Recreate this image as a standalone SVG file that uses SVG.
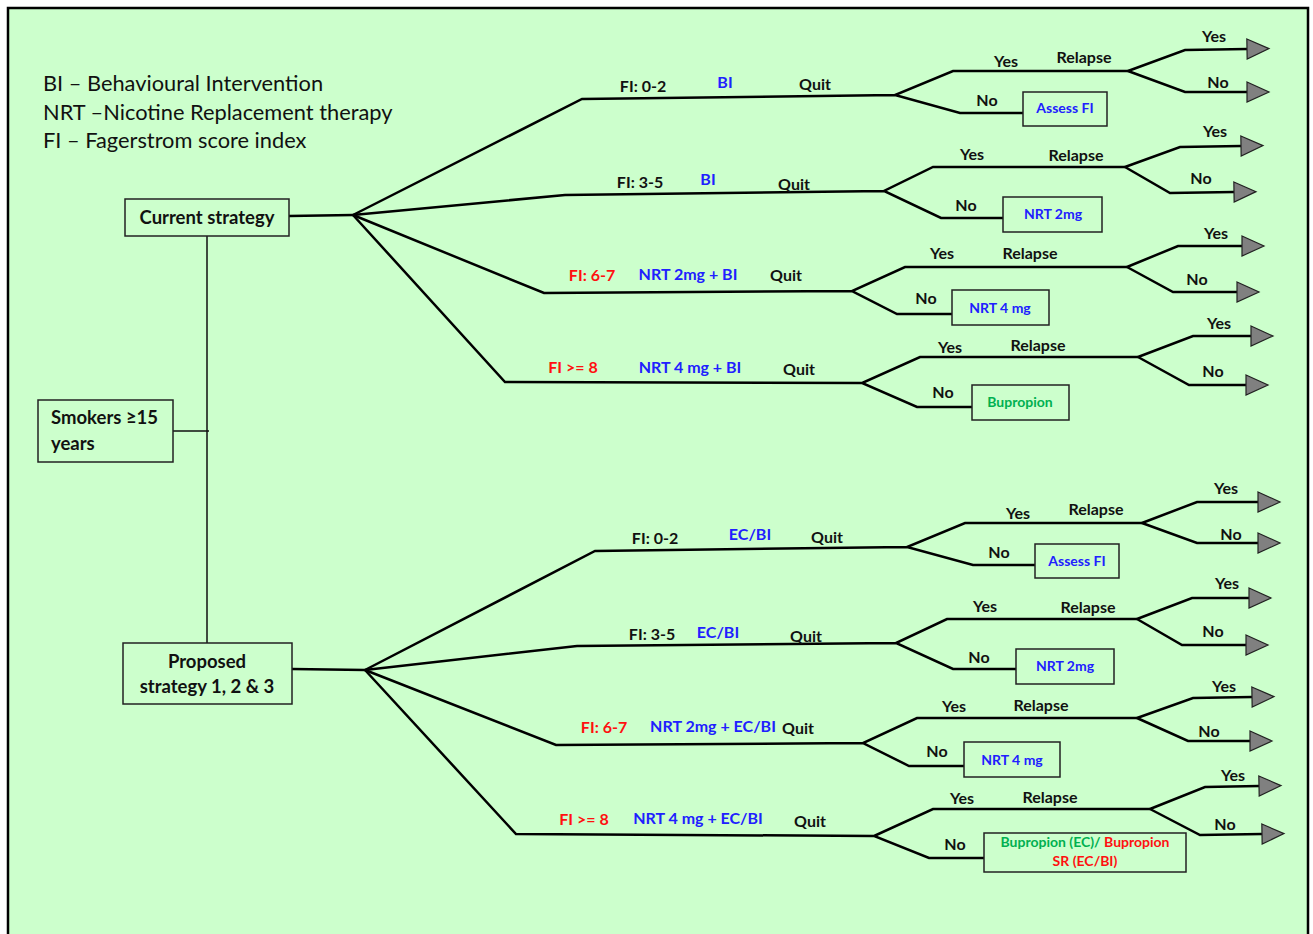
<svg xmlns="http://www.w3.org/2000/svg" width="1313" height="934" viewBox="0 0 1313 934">
<defs>
<style>
.t{font-family:Lato,"Open Sans","Liberation Sans",sans-serif;font-weight:bold;font-size:16px;text-anchor:middle;fill:#111}
.b{fill:#2020ff}.r{fill:#ff1010}.g{fill:#00b050}
.bx{fill:none;stroke:#222;stroke-width:1.5}
.bt{font-family:Lato,"Open Sans","Liberation Sans",sans-serif;font-weight:bold;font-size:14px;text-anchor:middle}
.nt{font-family:Lato,"Open Sans","Liberation Sans",sans-serif;font-weight:bold;font-size:18.5px;fill:#111}
.ln{fill:none;stroke:#000;stroke-width:2.5;stroke-linejoin:miter}
.thin{fill:none;stroke:#111;stroke-width:1.5}
.leg{font-family:Lato,"Open Sans","Liberation Sans",sans-serif;font-size:21.8px;fill:#111}
</style>
<marker id="arr" markerUnits="userSpaceOnUse" markerWidth="26" markerHeight="24" refX="1" refY="11" orient="auto" overflow="visible">
<path d="M1,1 L23,11 L1,21 Z" fill="#808080" stroke="#222" stroke-width="1.2"/>
</marker>
</defs>
<rect x="8" y="8" width="1300" height="940" fill="#ccffcc" stroke="#000" stroke-width="2.5"/>

<g id="legend">
<text class="leg" x="43" y="91">BI – Behavioural Intervention</text>
<text class="leg" x="43" y="120">NRT –Nicotine Replacement therapy</text>
<text class="leg" x="43" y="148">FI – Fagerstrom score index</text>
</g>

<g id="connectors">
<path class="thin" d="M207,236 V643 M173,431 H209"/>
<path class="ln" d="M289,216 L353,215 M292,669 L365,670"/>
<!-- G1 -->
<path class="ln" d="M353,215 L582,99 L895,95 M1023,113 L960,113 L895,95 L953,71 L1128,71"/>
<path class="ln" marker-end="url(#arr)" d="M1128,71 L1185,50 L1247,49"/>
<path class="ln" marker-end="url(#arr)" d="M1128,71 L1185,92 L1247,92"/>
<!-- G2 -->
<path class="ln" d="M353,215 L565,195 L884,191 M1003,218 L941,218 L884,191 L933,167 L1125,167"/>
<path class="ln" marker-end="url(#arr)" d="M1125,167 L1180,147 L1241,146"/>
<path class="ln" marker-end="url(#arr)" d="M1125,167 L1170,193 L1234,192"/>
<!-- G3 -->
<path class="ln" d="M353,215 L544,293 L852,291 M952,314 L897,314 L852,291 L905,267 L1127,267"/>
<path class="ln" marker-end="url(#arr)" d="M1127,267 L1178,246 L1242,246"/>
<path class="ln" marker-end="url(#arr)" d="M1127,267 L1173,292 L1237,292"/>
<!-- G4 -->
<path class="ln" d="M353,215 L505,382 L862,383 M972,407 L917,407 L862,383 L920,357 L1138,357"/>
<path class="ln" marker-end="url(#arr)" d="M1138,357 L1193,336 L1251,336"/>
<path class="ln" marker-end="url(#arr)" d="M1138,357 L1189,385 L1246,385"/>
<!-- G5 -->
<path class="ln" d="M365,670 L595,551 L907,547 M1035,565 L973,565 L907,547 L965,523 L1142,523"/>
<path class="ln" marker-end="url(#arr)" d="M1142,523 L1197,502 L1258,502"/>
<path class="ln" marker-end="url(#arr)" d="M1142,523 L1197,543 L1258,543"/>
<!-- G6 -->
<path class="ln" d="M365,670 L577,646 L896,643 M1016,669 L953,669 L896,643 L947,619 L1137,619"/>
<path class="ln" marker-end="url(#arr)" d="M1137,619 L1192,598 L1249,598"/>
<path class="ln" marker-end="url(#arr)" d="M1137,619 L1182,645 L1246,645"/>
<!-- G7 -->
<path class="ln" d="M365,670 L556,745 L863,743 M964,766 L909,766 L863,743 L917,718 L1137,718"/>
<path class="ln" marker-end="url(#arr)" d="M1137,718 L1193,698 L1252,697"/>
<path class="ln" marker-end="url(#arr)" d="M1137,718 L1188,741 L1250,741"/>
<!-- G8 -->
<path class="ln" d="M365,670 L516,834 L874,836 M984,858 L929,858 L874,836 L933,809 L1150,809"/>
<path class="ln" marker-end="url(#arr)" d="M1150,809 L1205,787 L1259,786"/>
<path class="ln" marker-end="url(#arr)" d="M1150,809 L1200,835 L1262,834"/>
</g>

<g id="current-strategy">
<rect class="bx" x="125" y="199" width="164" height="37"/>
<text class="nt" x="207" y="224" text-anchor="middle">Current strategy</text>
</g>
<g id="smokers">
<rect class="bx" x="38" y="400" width="135" height="62"/>
<text class="nt" x="51" y="424">Smokers ≥15</text>
<text class="nt" x="51" y="450">years</text>
</g>
<g id="proposed-strategy">
<rect class="bx" x="123" y="643" width="169" height="61"/>
<text class="nt" x="207" y="668" text-anchor="middle">Proposed</text>
<text class="nt" x="207" y="693" text-anchor="middle">strategy 1, 2 &amp; 3</text>
</g>

<g id="current-branch-labels">
<text class="t" x="643" y="92">FI: 0-2</text><text class="t b" x="725" y="88">BI</text><text class="t" x="815" y="90">Quit</text>
<text class="t" x="1006" y="67">Yes</text><text class="t" x="1084" y="63">Relapse</text><text class="t" x="987" y="106">No</text>
<text class="t" x="1214" y="42">Yes</text><text class="t" x="1218" y="88">No</text>

<text class="t" x="640" y="188">FI: 3-5</text><text class="t b" x="708" y="185">BI</text><text class="t" x="794" y="190">Quit</text>
<text class="t" x="972" y="160">Yes</text><text class="t" x="1076" y="161">Relapse</text><text class="t" x="966" y="211">No</text>
<text class="t" x="1215" y="137">Yes</text><text class="t" x="1201" y="184">No</text>

<text class="t r" x="592" y="281">FI: 6-7</text><text class="t b" x="688" y="280">NRT 2mg + BI</text><text class="t" x="786" y="281">Quit</text>
<text class="t" x="942" y="259">Yes</text><text class="t" x="1030" y="259">Relapse</text><text class="t" x="926" y="304">No</text>
<text class="t" x="1216" y="239">Yes</text><text class="t" x="1197" y="285">No</text>

<text class="t r" x="573" y="373">FI &gt;= 8</text><text class="t b" x="690" y="373">NRT 4 mg + BI</text><text class="t" x="799" y="375">Quit</text>
<text class="t" x="950" y="353">Yes</text><text class="t" x="1038" y="351">Relapse</text><text class="t" x="943" y="398">No</text>
<text class="t" x="1219" y="329">Yes</text><text class="t" x="1213" y="377">No</text>
</g>

<g id="proposed-branch-labels">
<text class="t" x="655" y="544">FI: 0-2</text><text class="t b" x="750" y="540">EC/BI</text><text class="t" x="827" y="543">Quit</text>
<text class="t" x="1018" y="519">Yes</text><text class="t" x="1096" y="515">Relapse</text><text class="t" x="999" y="558">No</text>
<text class="t" x="1226" y="494">Yes</text><text class="t" x="1231" y="540">No</text>

<text class="t" x="652" y="640">FI: 3-5</text><text class="t b" x="718" y="638">EC/BI</text><text class="t" x="806" y="642">Quit</text>
<text class="t" x="985" y="612">Yes</text><text class="t" x="1088" y="613">Relapse</text><text class="t" x="979" y="663">No</text>
<text class="t" x="1227" y="589">Yes</text><text class="t" x="1213" y="637">No</text>

<text class="t r" x="604" y="733">FI: 6-7</text><text class="t b" x="713" y="732">NRT 2mg + EC/BI</text><text class="t" x="798" y="734">Quit</text>
<text class="t" x="954" y="712">Yes</text><text class="t" x="1041" y="711">Relapse</text><text class="t" x="937" y="757">No</text>
<text class="t" x="1224" y="692">Yes</text><text class="t" x="1209" y="737">No</text>

<text class="t r" x="584" y="825">FI &gt;= 8</text><text class="t b" x="698" y="824">NRT 4 mg + EC/BI</text><text class="t" x="810" y="827">Quit</text>
<text class="t" x="962" y="804">Yes</text><text class="t" x="1050" y="803">Relapse</text><text class="t" x="955" y="850">No</text>
<text class="t" x="1233" y="781">Yes</text><text class="t" x="1225" y="830">No</text>
</g>

<g id="box-assess-fi-1"><rect class="bx" x="1023" y="92" width="84" height="34"/><text class="bt b" x="1065" y="113">Assess FI</text></g>
<g id="box-nrt2-1"><rect class="bx" x="1003" y="197" width="99" height="35"/><text class="bt b" x="1053" y="219">NRT 2mg</text></g>
<g id="box-nrt4-1"><rect class="bx" x="952" y="290" width="97" height="35"/><text class="bt b" x="1000" y="313">NRT 4 mg</text></g>
<g id="box-bupropion-1"><rect class="bx" x="972" y="385" width="97" height="35"/><text class="bt g" x="1020" y="407">Bupropion</text></g>
<g id="box-assess-fi-2"><rect class="bx" x="1035" y="544" width="84" height="34"/><text class="bt b" x="1077" y="566">Assess FI</text></g>
<g id="box-nrt2-2"><rect class="bx" x="1016" y="649" width="98" height="35"/><text class="bt b" x="1065" y="671">NRT 2mg</text></g>
<g id="box-nrt4-2"><rect class="bx" x="964" y="742" width="96" height="35"/><text class="bt b" x="1012" y="765">NRT 4 mg</text></g>
<g id="box-bupropion-2"><rect class="bx" x="984" y="833" width="202" height="39"/>
<text class="bt" x="1085" y="847"><tspan class="g">Bupropion (EC)/</tspan><tspan class="r"> Bupropion</tspan></text>
<text class="bt r" x="1085" y="866">SR (EC/BI)</text></g>
</svg>
